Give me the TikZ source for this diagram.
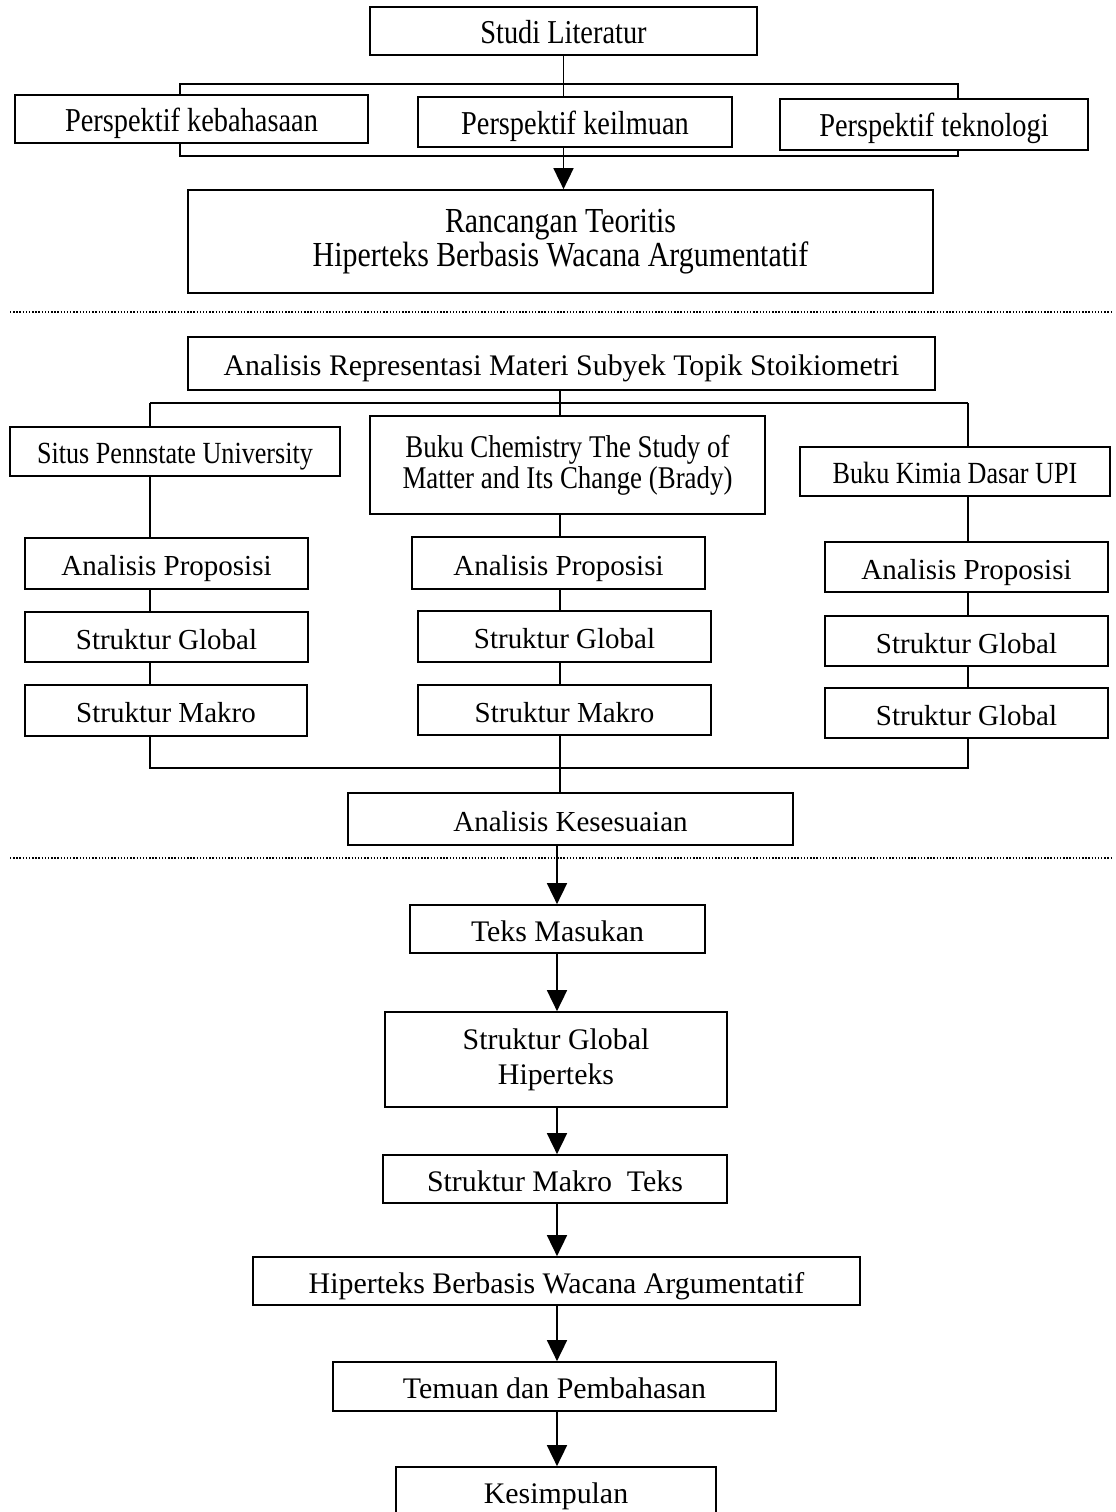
\documentclass[tikz,border=0pt]{standalone}
\usepackage{fontspec}
\setmainfont{Liberation Serif}
\newfontfamily\narrowserif[FakeStretch=0.85]{Liberation Serif}
\usepackage{tikz}
\usetikzlibrary{arrows.meta}

\begin{document}
\begin{tikzpicture}[x=0.02cm, y=-0.02cm,
    stage/.style={draw, line width=1pt, fill=white, inner sep=0pt, align=center},
    oneline/.style={text height=14pt, text depth=0pt},
    link/.style={line width=0.6pt},
    flow/.style={line width=1pt, -{Triangle[width=0.4cm, length=0.42cm]}},
    toptext/.style={font=\narrowserif\fontsize{19}{19.5}\selectfont},
    srctext/.style={font=\narrowserif\fontsize{17.5}{17.6}\selectfont},
    midtext/.style={font=\fontsize{16.5}{20}\selectfont},
    lowtext/.style={font=\fontsize{17}{19.8}\selectfont}]
    \useasboundingbox (0,0) rectangle (1116,1512);

    % studi literatur
    \draw[line width=1pt] (180,84) rectangle (958,156);
    \node[stage, oneline, toptext, minimum width=7.74cm, minimum height=0.96cm] (studi) at (563.5,31) {Studi Literatur};
    \node[stage, oneline, toptext, minimum width=7.06cm, minimum height=0.96cm] (bahasa) at (191.5,119) {Perspektif kebahasaan};
    \node[stage, oneline, toptext, minimum width=6.28cm, minimum height=1.0cm] (ilmu) at (575,122) {Perspektif keilmuan};
    \node[stage, oneline, toptext, minimum width=6.16cm, minimum height=1.02cm] (tekno) at (934,124.5) {Perspektif teknologi};
    \node[stage, toptext, font=\narrowserif\fontsize{20}{19.5}\selectfont, minimum width=14.9cm, minimum height=2.06cm] (rancangan) at (560.5,241.5)
      {Rancangan Teoritis\\Hiperteks Berbasis Wacana Argumentatif};
    \draw[link] (studi.south) -- (studi.south |- ilmu.north);
    \draw[flow] (studi.south |- ilmu.south) -- (studi.south |- rancangan.north);

    \draw[densely dotted, line width=0.8pt] (10,312) -- (1112,312);

    % analisis materi subyek
    \node[stage, oneline, midtext, font=\fontsize{17}{20}\selectfont, minimum width=14.94cm, minimum height=1.06cm] (materi) at (561.5,363.5)
      {Analisis Representasi Materi Subyek Topik Stoikiometri};
    \coordinate (colL) at (150,403);
    \coordinate (colM) at (560,403);
    \coordinate (colR) at (968,403);
    \coordinate (join) at (560,768);

    \node[stage, oneline, srctext, minimum width=6.6cm, minimum height=0.98cm] (situs) at (175,451.5) {Situs Pennstate University};
    \node[stage, srctext, font=\narrowserif\fontsize{18}{17.6}\selectfont, minimum width=7.9cm, minimum height=1.96cm] (brady) at (567.5,465)
      {Buku Chemistry The Study of\\Matter and Its Change (Brady)};
    \node[stage, oneline, srctext, minimum width=6.2cm, minimum height=0.98cm] (upi) at (955,471.5) {Buku Kimia Dasar UPI};

    \node[stage, oneline, midtext, minimum width=5.66cm, minimum height=1.02cm] (propL) at (166.5,563.5) {Analisis Proposisi};
    \node[stage, oneline, midtext, minimum width=5.66cm, minimum height=1.0cm] (globalL) at (166.5,637) {Struktur Global};
    \node[stage, oneline, midtext, minimum width=5.64cm, minimum height=1.02cm] (makroL) at (166,710.5) {Struktur Makro};

    \node[stage, oneline, midtext, minimum width=5.86cm, minimum height=1.04cm] (propM) at (558.5,563) {Analisis Proposisi};
    \node[stage, oneline, midtext, minimum width=5.86cm, minimum height=1.02cm] (globalM) at (564.5,636.5) {Struktur Global};
    \node[stage, oneline, midtext, minimum width=5.86cm, minimum height=1.0cm] (makroM) at (564.5,710) {Struktur Makro};

    \node[stage, oneline, midtext, minimum width=5.66cm, minimum height=1.0cm] (propR) at (966.5,567) {Analisis Proposisi};
    \node[stage, oneline, midtext, minimum width=5.66cm, minimum height=1.0cm] (globalR) at (966.5,641) {Struktur Global};
    \node[stage, oneline, midtext, minimum width=5.66cm, minimum height=1.0cm] (makroR) at (966.5,713) {Struktur Global};

    \node[stage, oneline, midtext, minimum width=8.9cm, minimum height=1.04cm] (sesuai) at (570.5,819) {Analisis Kesesuaian};

    \draw[link] (materi.south -| colM) -- (colM);
    \draw[link] (colL) -- (colR);
    \draw[link] (colL) -- (colL |- situs.north);
    \draw[link] (colM) -- (colM |- brady.north);
    \draw[link] (colR) -- (colR |- upi.north);
    \foreach \a/\b in {situs/propL, propL/globalL, globalL/makroL}
      \draw[link] (colL |- \a.south) -- (colL |- \b.north);
    \foreach \a/\b in {brady/propM, propM/globalM, globalM/makroM}
      \draw[link] (colM |- \a.south) -- (colM |- \b.north);
    \foreach \a/\b in {upi/propR, propR/globalR, globalR/makroR}
      \draw[link] (colR |- \a.south) -- (colR |- \b.north);
    \draw[link] (colL |- makroL.south) -- (colL |- join) -- (colR |- join) -- (colR |- makroR.south);
    \draw[link] (colM |- makroM.south) -- (colM |- sesuai.north);

    \draw[densely dotted, line width=0.8pt] (10,858) -- (1112,858);

    % hiperteks
    \coordinate (spine) at (557,880);
    \node[stage, oneline, lowtext, minimum width=5.9cm, minimum height=0.96cm] (teks) at (557.5,929) {Teks Masukan};
    \node[stage, lowtext, minimum width=6.84cm, minimum height=1.9cm] (sglobal) at (556,1059.5)
      {Struktur Global\\Hiperteks};
    \node[stage, oneline, lowtext, minimum width=6.88cm, minimum height=0.96cm] (smakro) at (555,1179) {Struktur Makro\ \ Teks};
    \node[stage, oneline, lowtext, minimum width=12.14cm, minimum height=0.96cm] (hiperteks) at (556.5,1281)
      {Hiperteks Berbasis Wacana Argumentatif};
    \node[stage, oneline, lowtext, minimum width=8.86cm, minimum height=0.98cm] (temuan) at (554.5,1386.5) {Temuan dan Pembahasan};
    \node[stage, oneline, lowtext, minimum width=6.4cm, minimum height=0.96cm] (simpul) at (556,1491) {Kesimpulan};

    \draw[flow] (spine |- sesuai.south) -- (spine |- teks.north);
    \foreach \a/\b in {teks/sglobal, sglobal/smakro, smakro/hiperteks, hiperteks/temuan, temuan/simpul}
      \draw[flow] (spine |- \a.south) -- (spine |- \b.north);
\end{tikzpicture}
\end{document}
